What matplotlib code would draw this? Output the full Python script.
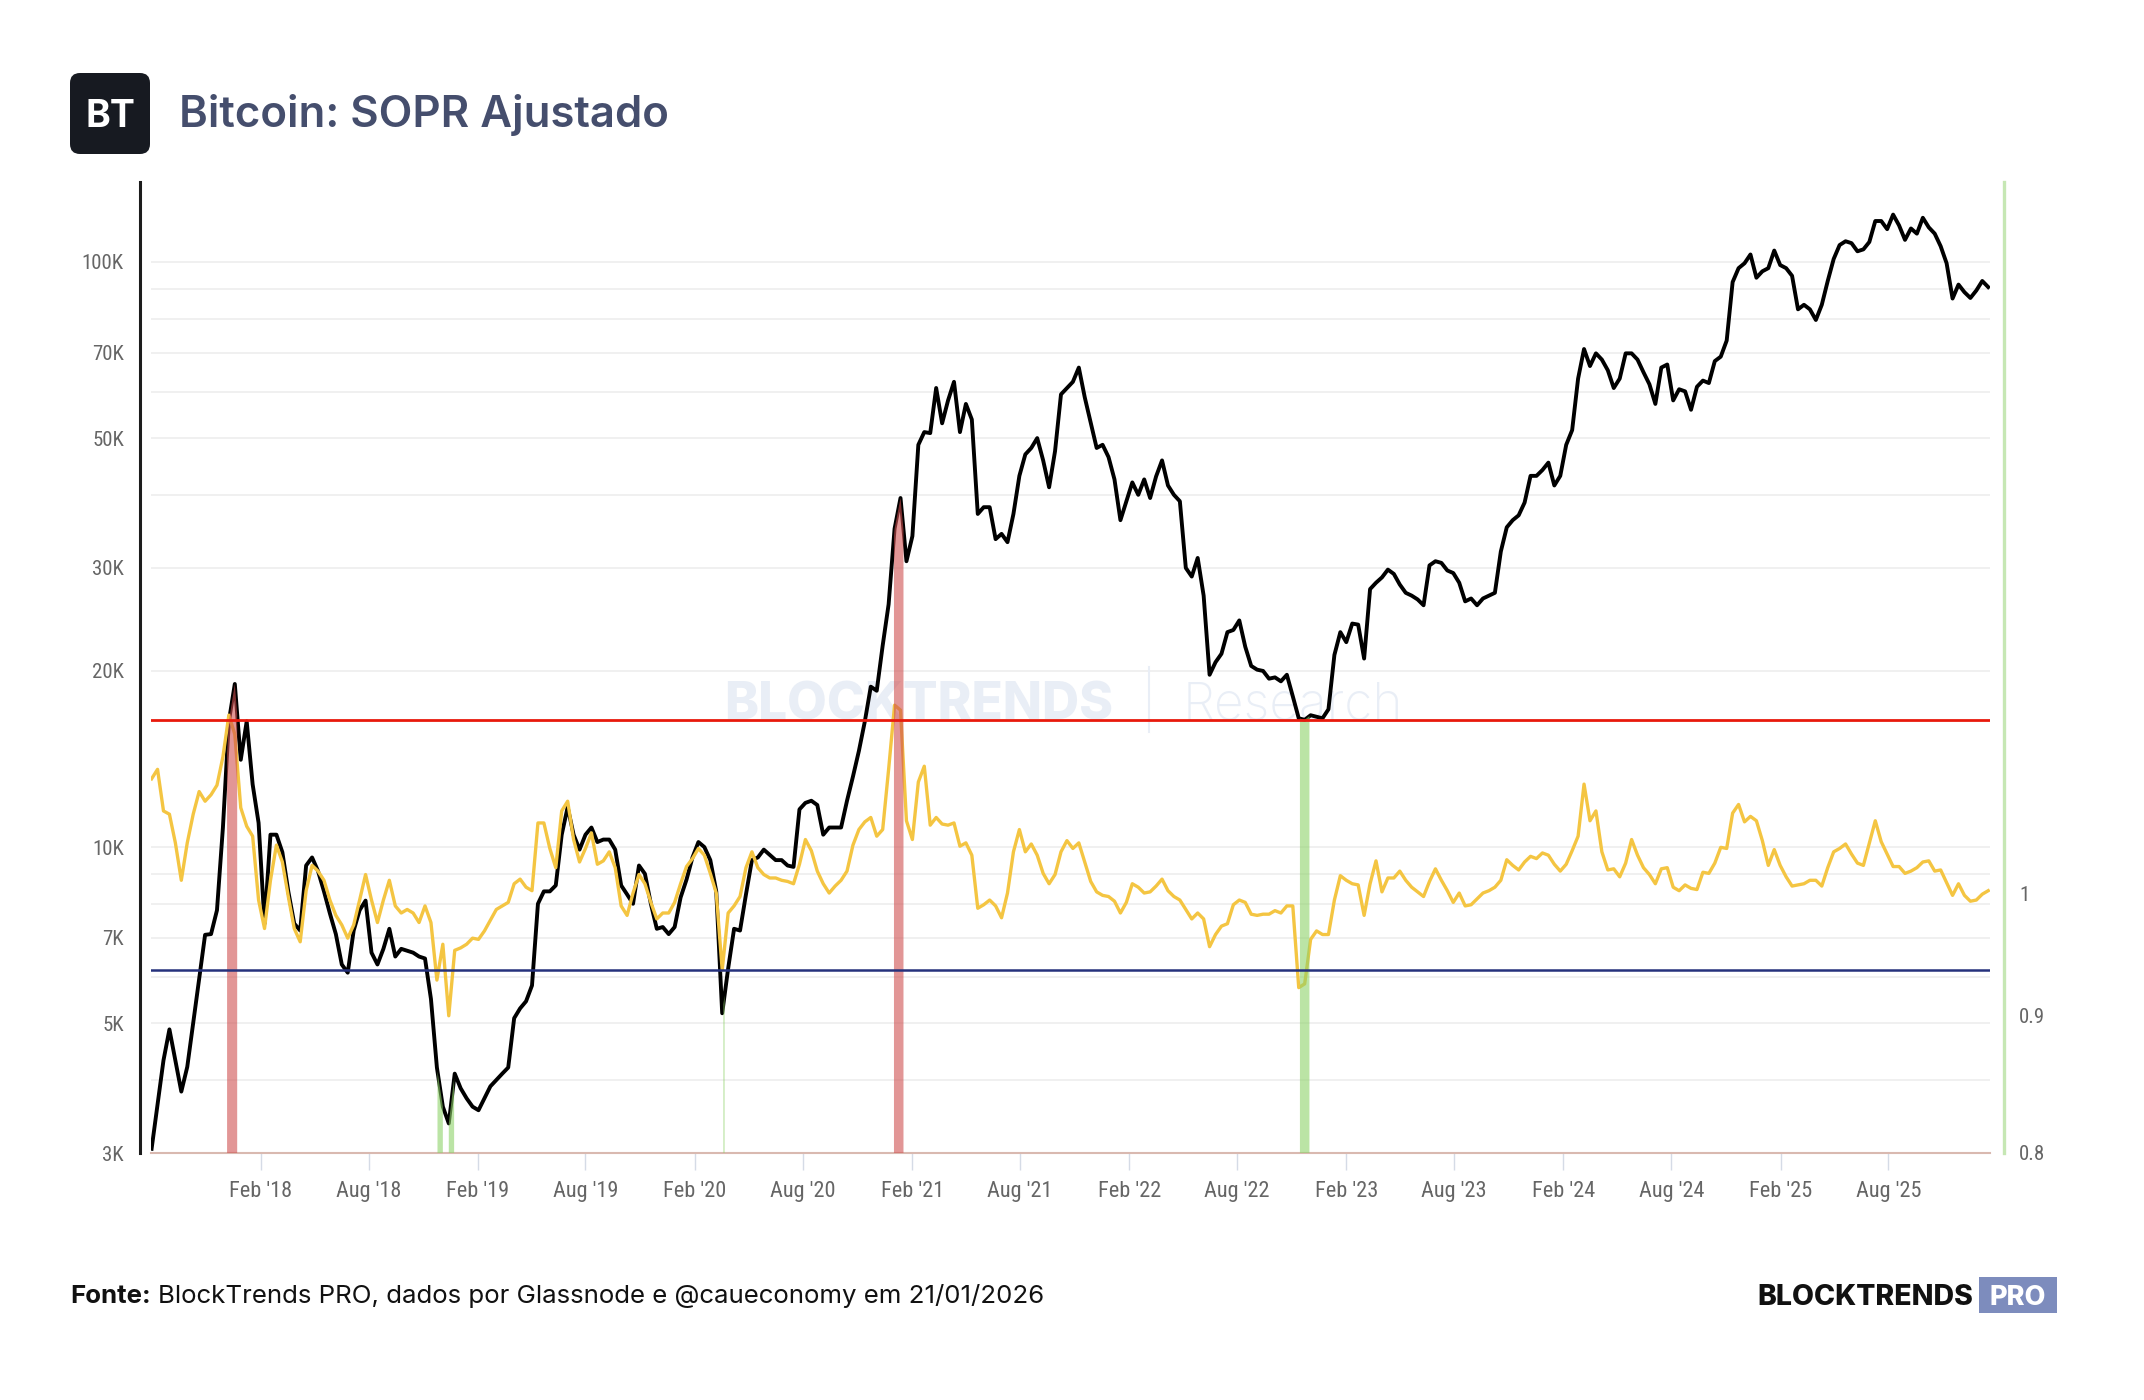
import numpy as np
import pandas as pd
import matplotlib
matplotlib.use('Agg')
import matplotlib.pyplot as plt
import matplotlib.dates as mdates
import matplotlib.ticker as mticker
from matplotlib import font_manager
from matplotlib.patches import FancyBboxPatch, Polygon, Rectangle

# valores: um ponto a cada 10 dias a partir de 01/08/2017
inicio = '2017-08-01'

# preço do BTC em milhares de USD
preco_k = [
    3.05, 3.63, 4.32, 4.88, 4.32, 3.82, 4.21, 5.0, 5.95, 7.08,
    7.1, 7.8, 10.8, 16.4, 19.0, 14.1, 16.4, 12.8, 11.0, 7.4,
    10.5, 10.5, 9.8, 8.4, 7.4, 7.2, 9.3, 9.6, 9.1, 8.4,
    7.7, 7.1, 6.3, 6.1, 7.2, 7.8, 8.1, 6.6, 6.3, 6.7,
    7.25, 6.5, 6.7, 6.65, 6.6, 6.5, 6.45, 5.5, 4.2, 3.6,
    3.37, 4.1, 3.87, 3.72, 3.6, 3.55, 3.72, 3.9, 4.0, 4.1,
    4.2, 5.1, 5.3, 5.45, 5.8, 8.0, 8.4, 8.4, 8.6, 10.5,
    11.7, 10.5, 9.9, 10.5, 10.8, 10.2, 10.3, 10.3, 9.9, 8.6,
    8.3, 8.0, 9.3, 9.0, 8.0, 7.25, 7.3, 7.1, 7.3, 8.2,
    8.8, 9.6, 10.2, 10.0, 9.5, 8.4, 5.2, 6.2, 7.25, 7.2,
    8.3, 9.5, 9.6, 9.9, 9.7, 9.5, 9.5, 9.3, 9.25, 11.6,
    11.9, 12.0, 11.8, 10.5, 10.8, 10.8, 10.8, 12.0, 13.2, 14.6,
    16.4, 18.8, 18.5, 22.1, 26.0, 35.0, 39.5, 30.8, 34.0, 48.7,
    51.2, 51.0, 60.9, 53.0, 58.0, 62.4, 51.2, 57.2, 53.8, 37.1,
    38.1, 38.1, 33.6, 34.3, 33.2, 37.1, 43.1, 46.9, 48.1, 50.0,
    45.8, 41.2, 47.5, 59.4, 60.9, 62.4, 66.0, 58.7, 53.1, 48.1,
    48.7, 46.4, 42.5, 36.2, 39.0, 42.0, 40.0, 42.5, 39.5, 43.0,
    45.8, 41.5, 40.0, 39.0, 30.0, 29.0, 31.2, 26.9, 19.7, 20.7,
    21.4, 23.3, 23.5, 24.4, 22.0, 20.4, 20.1, 20.0, 19.4, 19.5,
    19.2, 19.7, 18.1, 16.6, 16.5, 16.8, 16.7, 16.6, 17.2, 21.3,
    23.3, 22.4, 24.1, 24.0, 21.0, 27.6, 28.3, 28.9, 29.8, 29.3,
    28.1, 27.2, 26.9, 26.5, 25.9, 30.3, 30.8, 30.6, 29.7, 29.4,
    28.3, 26.3, 26.6, 25.9, 26.6, 26.9, 27.2, 32.0, 35.2, 36.2,
    36.9, 38.8, 43.1, 43.1, 44.1, 45.4, 41.5, 43.1, 48.7, 51.6,
    63.2, 71.0, 66.4, 69.8, 68.1, 65.3, 60.9, 63.2, 69.8, 69.8,
    68.1, 64.8, 61.8, 57.2, 66.0, 66.8, 58.0, 60.6, 60.1, 55.9,
    61.2, 62.7, 62.1, 67.7, 68.9, 73.4, 92.4, 97.6, 99.5, 103.0,
    94.0, 96.4, 97.6, 104.6, 98.8, 97.6, 94.7, 83.0, 84.5, 83.0,
    79.6, 84.5, 92.8, 101.2, 106.9, 108.5, 107.7, 104.3, 105.1, 108.2,
    117.5, 117.5, 113.8, 120.5, 115.5, 109.1, 114.1, 111.8, 119.0, 114.6,
    111.8, 106.4, 99.5, 86.6, 91.5, 88.8, 86.8, 89.4, 92.8, 90.6,
]

# SOPR ajustado
sopr = [
    1.103, 1.112, 1.073, 1.070, 1.044, 1.011, 1.044, 1.070, 1.091, 1.082,
    1.088, 1.097, 1.124, 1.165, 1.146, 1.076, 1.059, 1.050, 0.994, 0.970,
    1.011, 1.042, 1.027, 0.997, 0.970, 0.959, 1.002, 1.024, 1.019, 1.011,
    0.994, 0.981, 0.973, 0.962, 0.973, 0.994, 1.016, 0.994, 0.975, 0.994,
    1.011, 0.989, 0.983, 0.986, 0.983, 0.975, 0.989, 0.975, 0.928, 0.957,
    0.900, 0.952, 0.954, 0.957, 0.962, 0.961, 0.968, 0.977, 0.986, 0.989,
    0.992, 1.008, 1.012, 1.005, 1.002, 1.062, 1.062, 1.039, 1.022, 1.073,
    1.082, 1.047, 1.027, 1.039, 1.053, 1.025, 1.028, 1.036, 1.022, 0.989,
    0.981, 1.000, 1.016, 1.008, 0.992, 0.978, 0.983, 0.983, 0.992, 1.008,
    1.023, 1.030, 1.039, 1.033, 1.017, 1.000, 0.936, 0.983, 0.989, 0.997,
    1.022, 1.036, 1.022, 1.016, 1.013, 1.013, 1.011, 1.010, 1.008, 1.025,
    1.047, 1.037, 1.019, 1.008, 1.000, 1.006, 1.011, 1.019, 1.042, 1.056,
    1.063, 1.067, 1.050, 1.056, 1.112, 1.175, 1.170, 1.064, 1.047, 1.100,
    1.115, 1.060, 1.067, 1.061, 1.060, 1.062, 1.041, 1.044, 1.033, 0.987,
    0.990, 0.994, 0.989, 0.979, 1.000, 1.036, 1.056, 1.036, 1.043, 1.033,
    1.017, 1.008, 1.016, 1.036, 1.046, 1.039, 1.044, 1.027, 1.010, 1.001,
    0.998, 0.997, 0.993, 0.983, 0.992, 1.008, 1.005, 1.000, 1.001, 1.006,
    1.012, 1.002, 0.997, 0.994, 0.986, 0.978, 0.983, 0.978, 0.955, 0.965,
    0.972, 0.974, 0.990, 0.994, 0.992, 0.982, 0.981, 0.982, 0.982, 0.985,
    0.983, 0.989, 0.989, 0.922, 0.925, 0.961, 0.968, 0.965, 0.965, 0.994,
    1.015, 1.011, 1.008, 1.007, 0.981, 1.008, 1.028, 1.001, 1.013, 1.013,
    1.019, 1.011, 1.005, 1.001, 0.997, 1.010, 1.021, 1.011, 1.002, 0.992,
    1.000, 0.989, 0.990, 0.995, 1.000, 1.002, 1.005, 1.011, 1.029, 1.024,
    1.020, 1.027, 1.032, 1.030, 1.035, 1.033, 1.025, 1.019, 1.025, 1.037,
    1.050, 1.098, 1.064, 1.073, 1.036, 1.020, 1.021, 1.014, 1.026, 1.047,
    1.033, 1.022, 1.016, 1.008, 1.021, 1.022, 1.005, 1.002, 1.007, 1.004,
    1.003, 1.018, 1.017, 1.026, 1.040, 1.039, 1.071, 1.079, 1.063, 1.068,
    1.064, 1.046, 1.024, 1.038, 1.024, 1.014, 1.006, 1.007, 1.008, 1.011,
    1.011, 1.006, 1.022, 1.036, 1.039, 1.043, 1.034, 1.026, 1.024, 1.044,
    1.064, 1.045, 1.034, 1.023, 1.023, 1.017, 1.019, 1.022, 1.027, 1.028,
    1.019, 1.020, 1.009, 0.998, 1.008, 0.998, 0.993, 0.994, 0.999, 1.002,
]

nivel_topo = 1.16
nivel_fundo = 0.936

# períodos em que o SOPR passou dos níveis (faixas vermelhas e verdes)
sinais_topo = [('2017-12-06', '2017-12-23'), ('2021-01-01', '2021-01-17')]
sinais_fundo = [('2018-11-25', '2018-12-04'), ('2018-12-14', '2018-12-23'),
                ('2020-03-20', '2020-03-22'), ('2022-11-15', '2022-12-01')]

ticks_preco = [3000, 5000, 7000, 10000, 20000, 30000, 50000, 70000, 100000]
grade_preco = [m * 10 ** e for e in (3, 4) for m in range(1, 10) if m * 10 ** e >= 3000] + [100000]
ticks_sopr = [0.8, 0.9, 1.0]
ticks_datas = [pd.Timestamp(f'{a}-{m:02d}-01') for a in range(2018, 2026) for m in (2, 8)]

# fontes
disponiveis = {f.name for f in font_manager.fontManager.ttflist}


def escolhe(*nomes):
    for n in nomes:
        if n in disponiveis:
            return n
    return 'DejaVu Sans'


fonte_texto = escolhe('Inter', 'Open Sans', 'Roboto')
fonte_eixo = escolhe('Liberation Sans Narrow', 'Roboto Condensed', 'Open Sans Condensed', 'Liberation Sans')
plt.rcParams['font.family'] = [fonte_eixo, 'DejaVu Sans']

preco = np.array(preco_k) * 1000
datas = pd.date_range(inicio, periods=len(preco), freq='10D')

W, H = 2144, 1400
fig = plt.figure(figsize=(W / 100, H / 100), dpi=100)
ax = fig.add_axes([151 / W, 1 - 1153 / H, (1990 - 151) / W, (1153 - 182) / H])
ax2 = ax.twinx()

ax.set_yscale('log')
ax.set_ylim(3000, 137000)
ax2.set_yscale('log')
ax2.set_ylim(0.8, 1.841)
ax.set_xlim(pd.Timestamp('2017-07-31'), pd.Timestamp('2026-01-19'))

# marca d'água
ax.text(724 / W, 1 - 720 / H, 'BLOCKTRENDS', transform=fig.transFigure, family=fonte_texto,
        fontsize=37, weight='heavy', color='#e9eef6', va='baseline', zorder=1)
ax.plot([1149 / W, 1149 / W], [1 - 667 / H, 1 - 732 / H], transform=fig.transFigure,
        color='#e9eef6', lw=1.5, zorder=1, clip_on=False)
ax.text(1183 / W, 1 - 720 / H, 'Research', transform=fig.transFigure, family=fonte_texto,
        fontsize=37, weight='light', color='#e9eef6', va='baseline', zorder=1)

ax.plot(datas, preco, color='black', lw=2.8, zorder=3)
ax2.plot(datas, sopr, color='#f4c542', lw=2.4, zorder=3)

# faixas de sinal, do fundo do gráfico até a linha de preço
x_num = mdates.date2num(datas)
log_p = np.log(preco)
base = ax.get_ylim()[0]


def faixa(ini, fim, cor):
    a = mdates.date2num(pd.Timestamp(ini))
    b = mdates.date2num(pd.Timestamp(fim))
    xs = np.concatenate([[a], x_num[(x_num > a) & (x_num < b)], [b]])
    ys = np.exp(np.interp(xs, x_num, log_p))
    verts = [(a, base)] + list(zip(xs, ys)) + [(b, base)]
    ax2.add_patch(Polygon(verts, closed=True, facecolor=cor, edgecolor='none', alpha=0.6,
                          transform=ax.transData, zorder=4))


for ini, fim in sinais_topo:
    faixa(ini, fim, '#cf5050')
for ini, fim in sinais_fundo:
    faixa(ini, fim, '#8fd26a')

ax2.axhline(nivel_topo, color='#e8190c', lw=2.0, zorder=5)
ax2.axhline(nivel_fundo, color='#25317c', lw=1.8, zorder=5)

# eixo do preço
ax.yaxis.set_major_locator(mticker.FixedLocator(grade_preco))
ax.yaxis.set_minor_locator(mticker.NullLocator())
ax.yaxis.set_major_formatter(mticker.FuncFormatter(
    lambda v, p: f'{int(round(v / 1000))}K' if int(round(v)) in ticks_preco else ''))
ax.grid(axis='y', color='#ececec', lw=1.1)
ax.set_axisbelow(True)
ax.tick_params(axis='y', length=0, pad=11.5, labelsize=15, labelcolor='#666666')

ax.xaxis.set_major_locator(mticker.FixedLocator(mdates.date2num(ticks_datas)))
ax.xaxis.set_major_formatter(mdates.DateFormatter("%b '%y"))
ax.tick_params(axis='x', length=12, width=1.0, color='#d5dbe6', pad=8.5, labelsize=16, labelcolor='#666666')

ax.spines['top'].set_visible(False)
ax.spines['right'].set_visible(False)
ax.spines['left'].set_position(('outward', 8))
ax.spines['left'].set_color('#1c1c1c')
ax.spines['left'].set_linewidth(2.2)
ax.spines['bottom'].set_color('#d9b9b0')
ax.spines['bottom'].set_linewidth(1.5)

# eixo do SOPR
ax2.yaxis.set_major_locator(mticker.FixedLocator(ticks_sopr))
ax2.yaxis.set_minor_locator(mticker.NullLocator())
ax2.yaxis.set_major_formatter(mticker.FuncFormatter(lambda v, p: f'{v:g}'))
ax2.tick_params(axis='y', length=0, pad=11, labelsize=15, labelcolor='#666666')
for s in ('top', 'left', 'bottom'):
    ax2.spines[s].set_visible(False)
ax2.spines['right'].set_position(('outward', 10))
ax2.spines['right'].set_color('#c6e7b4')
ax2.spines['right'].set_linewidth(2.4)

# cabeçalho
lx = fig.add_axes([70 / W, 1 - 154 / H, 80 / W, 81 / H])
lx.set_xlim(0, 80)
lx.set_ylim(0, 81)
lx.axis('off')
lx.add_patch(FancyBboxPatch((0, 0), 80, 81, boxstyle='round,pad=0,rounding_size=10',
                            fc='#171a21', ec='none', clip_on=False))
lx.text(40.5, 26.7, 'BT', ha='center', va='baseline', color='white', fontsize=27,
        weight='bold', family=fonte_texto)

fig.text(179 / W, 1 - 127 / H, 'Bitcoin: SOPR Ajustado', family=fonte_texto, fontsize=31.5,
         weight='semibold', color='#454e6d', va='baseline')

# rodapé
r = fig.canvas.get_renderer()
t1 = fig.text(70 / W, 1 - 1303 / H, 'Fonte:', family=fonte_texto, fontsize=18.6,
              weight='bold', color='#111111', va='baseline')
bb = t1.get_window_extent(renderer=r)
fig.text(bb.x1 / fig.bbox.width + 7 / W, 1 - 1303 / H,
         'BlockTrends PRO, dados por Glassnode e @caueconomy em 21/01/2026',
         family=fonte_texto, fontsize=18.6, color='#111111', va='baseline')

fig.text(1973 / W, 1 - 1305 / H, 'BLOCKTRENDS', family=fonte_texto, fontsize=20.5,
         weight='heavy', color='#111111', va='baseline', ha='right')
fig.add_artist(Rectangle((1979 / W, 1 - 1313 / H), 78 / W, 36 / H, transform=fig.transFigure,
                         fc='#7d8cbd', ec='none'))
fig.text(2018 / W, 1 - 1305 / H, 'PRO', family=fonte_texto, fontsize=19.5, weight='heavy',
         color='white', va='baseline', ha='center')

fig.savefig('out.png', dpi=100)
